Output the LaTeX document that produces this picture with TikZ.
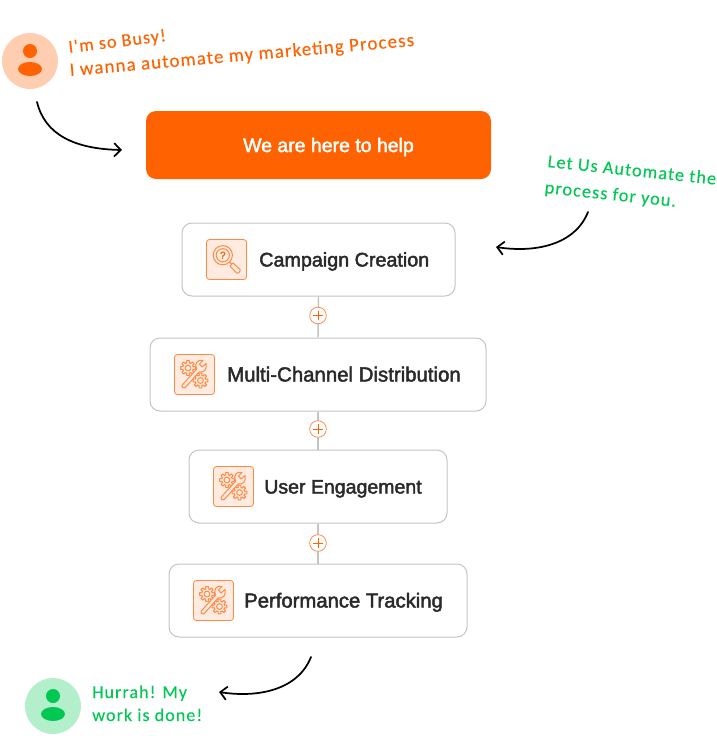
\documentclass[tikz,border=0pt]{standalone}
\usepackage{fontspec}
\setmainfont{Liberation Sans}
\newfontfamily\boxfont{Liberation Sans}[FakeBold=2.2]
\newfontfamily\handfont{Carlito}[LetterSpace=6,FakeBold=0.1]
\usetikzlibrary{arrows.meta,shapes.geometric}
\definecolor{brand}{HTML}{FF6200}
\definecolor{avatarO}{HTML}{FFCDB0}
\definecolor{grn}{HTML}{00C853}
\definecolor{avatarG}{HTML}{B3EFCB}
\definecolor{iconbg}{HTML}{FFEBE0}
\definecolor{iconln}{HTML}{FF8A45}
\definecolor{boxln}{HTML}{C4C4C4}
\definecolor{ink}{HTML}{2A2A2A}
\tikzset{
  x=0.75pt,y=-0.75pt,
  stepbox/.style={draw=boxln,line width=0.75pt,rounded corners=7.5pt,fill=white,inner sep=0pt},
  herobox/.style={fill=brand,rounded corners=7.5pt,inner sep=0pt},
  iconbox/.style={draw=iconln,fill=iconbg,line width=0.6pt,rounded corners=2.2pt,minimum width=30pt,minimum height=30pt,inner sep=0pt},
  lab/.style={font=\boxfont\fontsize{14.8}{18}\selectfont,text=ink,inner sep=0pt,anchor=base west},
  handO/.style={font=\handfont\fontsize{14.2}{16}\selectfont,text=brand,inner sep=0pt,anchor=base west},
  handG/.style={font=\handfont\fontsize{13.7}{16}\selectfont,text=grn,inner sep=0pt,anchor=base west},
  curve/.style={draw=black,line width=1.3pt,line cap=round,-{Straight Barb[length=5pt,width=10pt,line width=1.3pt]}},
  link/.style={draw=boxln,line width=1.1pt},
  plusnode/.style={circle,draw=iconln,fill=white,line width=0.6pt,minimum size=12.5pt,inner sep=0pt,
    path picture={\draw[brand,line width=0.7pt] (path picture bounding box.center)+(-3.6pt,0)--+(3.6pt,0) (path picture bounding box.center)+(0,-3.6pt)--+(0,3.6pt);}},
  iconline/.style={draw=iconln,line width=0.75pt,line join=round,line cap=round},
}
\newcommand{\gearshape}[2]{%
 \begin{scope}[shift={(#1,#2)}]
  \draw (0,0) circle[radius=2.9];
  \foreach \a in {0,45,...,315}{%
   \draw (\a-14:5.3) -- (\a-10:7.4) -- (\a+10:7.4) -- (\a+14:5.3) arc[start angle=\a+14,end angle=\a+31,radius=5.3];}
 \end{scope}}
\newcommand{\gearicon}[1]{%
 \begin{scope}[shift={(#1)},iconline]
  \gearshape{-6.5}{-6.5}
  \gearshape{6}{6}
  \fill[iconbg] (-12.4,10.7) -- (2.1,-5.3) .. controls (-0.5,-11) and (3,-15.5) .. (8.5,-14) -- (5,-10.5) -- (7.5,-7.5) -- (11.5,-11) .. controls (13,-5.5) and (9,-1) .. (4.9,-2.7) -- (-9.6,13.3) -- cycle;
  \draw (-9.6,13.3) -- (4.9,-2.7) .. controls (9,-1) and (13,-5.5) .. (11.5,-11) -- (7.5,-7.5) -- (5,-10.5) -- (8.5,-14) .. controls (3,-15.5) and (-0.5,-11) .. (2.1,-5.3) -- (-12.4,10.7) .. controls (-13.5,12.5) and (-11.5,14.5) .. (-9.6,13.3) -- cycle;
 \end{scope}}
\newcommand{\lensicon}[1]{%
 \begin{scope}[shift={(#1)},iconline]
  \draw (-3.7,-4.3) circle[radius=9.6];
  \draw (-3.7,-4.3) circle[radius=6.6];
  \draw (3.2,2.5) -- (5,4.3);
  \draw (3.5,6.5) -- (6.5,3.5) -- (13.5,10) .. controls (14.5,11.5) and (11.5,14.5) .. (10,13.5) -- cycle;
  \node[font=\boxfont\fontsize{7.5}{8}\selectfont,text=brand,inner sep=0pt] at (-3.7,-4.3) {?};
 \end{scope}}
\begin{document}
\begin{tikzpicture}
\useasboundingbox (0,0) rectangle (717,736);
% hero
\node[herobox,minimum width=258.75pt,minimum height=51pt] (hero) at (318.5,145) {};
\node[inner sep=0pt,text=white,font=\boxfont\fontsize{14.6}{18}\selectfont,anchor=base] (herotext) at (328.5,152) {We are here to help};
% step boxes
\node[stepbox,minimum width=204.75pt,minimum height=54.75pt] (s1) at (318.5,259.5) {};
\node[stepbox,minimum width=252pt,minimum height=54.75pt] (s2) at (318,374.5) {};
\node[stepbox,minimum width=193.5pt,minimum height=54.75pt] (s3) at (318,486.5) {};
\node[stepbox,minimum width=223.5pt,minimum height=54.75pt] (s4) at (318,600.5) {};
% connectors
\draw[link] (s1.south) -- (s2.north);
\draw[link] (s2.south) -- (s3.north);
\draw[link] (s3.south) -- (s4.north);
\node[plusnode] (p1) at (318,315.5) {};
\node[plusnode] (p2) at (318,429) {};
\node[plusnode] (p3) at (318,543) {};
% icons
\node[iconbox] (i1) at (226.5,259.5) {};
\node[iconbox] (i2) at (194.5,374.5) {};
\node[iconbox] (i3) at (233.5,486.5) {};
\node[iconbox] (i4) at (213.5,600.5) {};
\lensicon{226.5,259.5}
\gearicon{194.5,374.5}
\gearicon{233.5,486.5}
\gearicon{213.5,600.5}
% labels
\node[lab] (l1) at (259,266.5) {Campaign Creation};
\node[lab,font=\boxfont\fontsize{15.3}{18}\selectfont] (l2) at (227,381.5) {Multi-Channel Distribution};
\node[lab,font=\boxfont\fontsize{14.65}{18}\selectfont] (l3) at (264,493.5) {User Engagement};
\node[lab,font=\boxfont\fontsize{15.2}{18}\selectfont] (l4) at (244,607.5) {Performance Tracking};
% avatars
\node[circle,fill=avatarO,minimum size=42pt,inner sep=0pt] (a1) at (30,61) {};
\fill[brand] (30,51) circle[radius=7];
\fill[brand] (30,69) ellipse[x radius=12,y radius=7];
\node[circle,fill=avatarG,minimum size=42pt,inner sep=0pt] (a2) at (53,706) {};
\fill[grn] (53,696) circle[radius=7];
\fill[grn] (53,714) ellipse[x radius=12,y radius=7];
% handwriting
\node[handO,rotate=7,font=\handfont\fontsize{13.6}{16}\selectfont] (t1) at (69,53) {I'm so Busy!};
\node[handO,rotate=5] (t2) at (70,76) {I wanna automate my marketing Process};
\node[handG,rotate=-6] (t3) at (547,167) {Let Us Automate the};
\node[handG,rotate=-6] (t4) at (544,193) {process for you.};
\node[handG,font=\handfont\fontsize{13.5}{16}\selectfont] (t5) at (92,698) {Hurrah! My};
\node[handG,font=\handfont\fontsize{13.5}{16}\selectfont] (t6) at (92,721) {work is done!};
% curved arrows
\coordinate (c1a) at (37,102); \coordinate (c1b) at (122,150);
\coordinate (c2a) at (588,212); \coordinate (c2b) at (496,247);
\coordinate (c3a) at (311,657); \coordinate (c3b) at (219,692);
\draw[curve] (c1a) .. controls (45,135) and (75,149) .. (c1b);
\draw[curve] (c2a) .. controls (575,245) and (535,253) .. (c2b);
\draw[curve] (c3a) .. controls (298,690) and (258,698) .. (c3b);
\end{tikzpicture}
\end{document}
